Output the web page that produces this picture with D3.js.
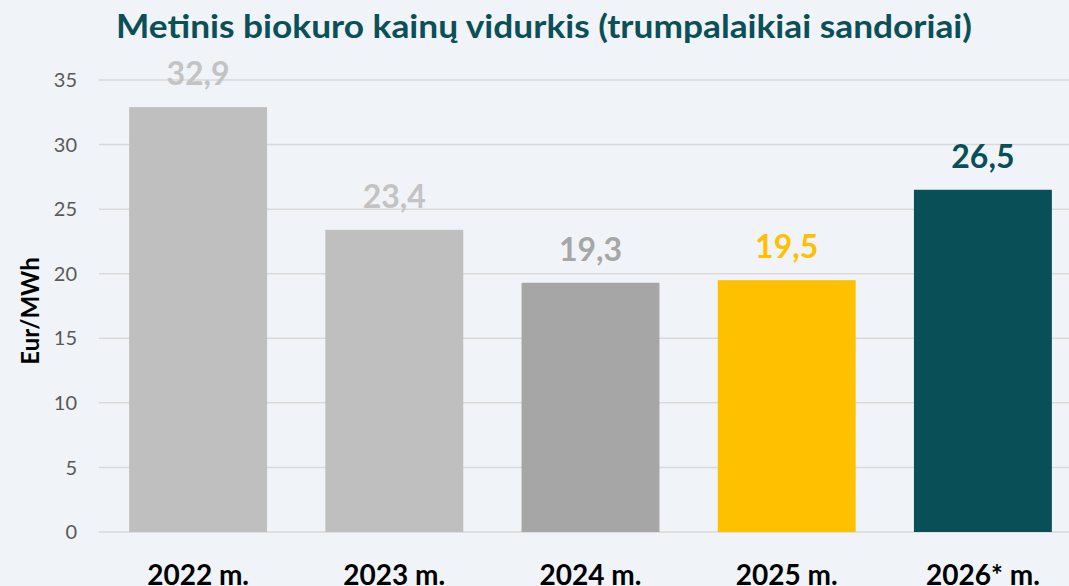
<!DOCTYPE html>
<html><head><meta charset="utf-8">
<script src="https://cdn.jsdelivr.net/npm/d3@7"></script>
<style>body{margin:0;background:#f0f4f8;}svg{display:block;}</style>
</head><body>
<svg id="c" width="1069" height="586"></svg>
<script>
const categories = ["2022 m.", "2023 m.", "2024 m.", "2025 m.", "2026* m."];
const values = [32.9, 23.4, 19.3, 19.5, 26.5];
const labels = ["32,9", "23,4", "19,3", "19,5", "26,5"];
const barColors = ["#bfbfbf", "#bfbfbf", "#a6a6a6", "#ffc000", "#084f57"];
const labelColors = ["#c3c3c3", "#c3c3c3", "#a6a6a6", "#ffc000", "#084f57"];
const yTicks = [0, 5, 10, 15, 20, 25, 30, 35];
const title = "Metinis biokuro kainų vidurkis (trumpalaikiai sandoriai)";
const yTitle = "Eur/MWh";

const svg = d3.select("#c");
const W = 1069, H = 586;
svg.append("rect").attr("width", W).attr("height", H).attr("fill", "#f0f4f8");
const font = "Lato, 'Open Sans', sans-serif";

const x = d3.scaleBand().domain(categories).range([100, 1081]).paddingInner(0.297).paddingOuter(0.1485);
const y = d3.scaleLinear().domain([0, 35]).range([532, 80]);

// gridlines
svg.append("g").selectAll("line").data(yTicks).join("line")
  .attr("x1", 99).attr("x2", W)
  .attr("y1", d => y(d)).attr("y2", d => y(d))
  .attr("stroke", "#d9d9d9").attr("stroke-width", 1.5);

// y tick labels
svg.append("g").selectAll("text").data(yTicks).join("text")
  .attr("x", 77).attr("y", d => y(d)).attr("dy", "0.36em")
  .attr("text-anchor", "end").attr("font-family", font).attr("font-size", 20)
  .attr("fill", "#595959").text(d => d);

// bars
svg.append("g").selectAll("rect").data(values).join("rect")
  .attr("x", (d, i) => x(categories[i])).attr("width", x.bandwidth())
  .attr("y", d => y(d)).attr("height", d => y(0) - y(d))
  .attr("fill", (d, i) => barColors[i]);

// value labels
svg.append("g").selectAll("text").data(values).join("text")
  .attr("x", (d, i) => x(categories[i]) + x.bandwidth() / 2)
  .attr("y", d => y(d) - 22)
  .attr("text-anchor", "middle").attr("font-family", font).attr("font-weight", "bold")
  .attr("font-size", 32).attr("fill", (d, i) => labelColors[i]).text((d, i) => labels[i]);

// x labels
svg.append("g").selectAll("text").data(categories).join("text")
  .attr("x", d => x(d) + x.bandwidth() / 2).attr("y", 585)
  .attr("text-anchor", "middle").attr("font-family", font).attr("font-weight", "bold")
  .attr("font-size", 28).attr("fill", "#000").text(d => d);

// y title
svg.append("text").attr("transform", "translate(39,311) rotate(-90)")
  .attr("text-anchor", "middle").attr("font-family", font).attr("font-weight", "bold")
  .attr("font-size", 24).attr("fill", "#000").text(yTitle);

// title
svg.append("text").attr("x", 544).attr("y", 38)
  .attr("text-anchor", "middle").attr("font-family", font).attr("font-weight", "bold")
  .attr("font-size", 32).attr("fill", "#0b4f57")
  .attr("textLength", 856).attr("lengthAdjust", "spacingAndGlyphs").text(title);
</script>
</body></html>
